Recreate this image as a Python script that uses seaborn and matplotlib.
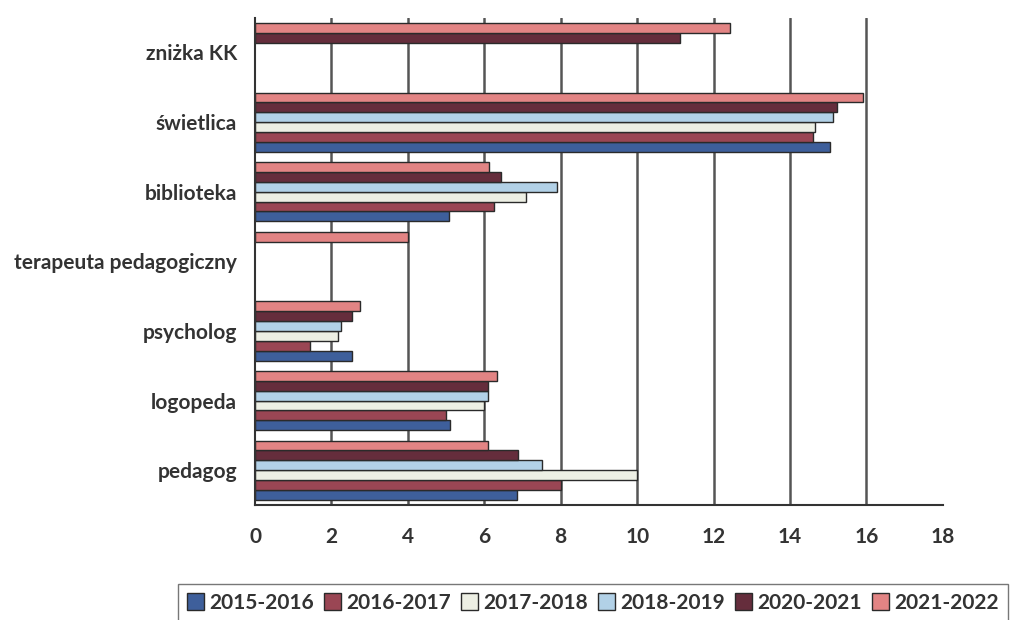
import matplotlib
matplotlib.use("Agg")
import matplotlib.pyplot as plt
from matplotlib.ticker import FixedLocator
import seaborn as sns
import pandas as pd
import numpy as np

categories = ["pedagog", "logopeda", "psycholog", "terapeuta pedagogiczny",
              "biblioteka", "świetlica", "zniżka KK"]
series = ["2015-2016", "2016-2017", "2017-2018", "2018-2019", "2020-2021", "2021-2022"]
v_2015_2016 = [6.85, 5.1, 2.55, np.nan, 5.07, 15.05, np.nan]
v_2016_2017 = [8.0, 5.0, 1.45, np.nan, 6.25, 14.6, np.nan]
v_2017_2018 = [10.0, 6.0, 2.17, np.nan, 7.1, 14.65, np.nan]
v_2018_2019 = [7.5, 6.1, 2.25, np.nan, 7.9, 15.13, np.nan]
v_2020_2021 = [6.87, 6.1, 2.55, np.nan, 6.45, 15.23, 11.13]
v_2021_2022 = [6.1, 6.33, 2.76, 4.0, 6.13, 15.9, 12.43]
x_ticks = [0, 2, 4, 6, 8, 10, 12, 14, 16, 18]
colors = ["#2F5BAA", "#A8384A", "#EEF1E2", "#A9D3F0", "#6E2438", "#F27474"]

values = [v_2015_2016, v_2016_2017, v_2017_2018, v_2018_2019, v_2020_2021, v_2021_2022]
rows = []
for s, vals in zip(series, values):
    for c, v in zip(categories, vals):
        rows.append({"category": c, "series": s, "value": v})
df = pd.DataFrame(rows)

sns.set_style("white")
plt.rcParams["font.family"] = ["Lato", "DejaVu Sans"]
plt.rcParams["font.weight"] = "bold"

fig = plt.figure(figsize=(10.1, 6.2), dpi=100)
ax = fig.add_axes([0.2525, 0.1855, 0.681, 0.786])

sns.barplot(data=df, x="value", y="category", hue="series", order=categories,
            hue_order=series, palette=colors, orient="h", errorbar=None,
            width=0.85, edgecolor="#2a2a2a", linewidth=1.0, ax=ax, legend=True)

ax.set_ylim(-0.5, len(categories) - 0.5)
ax.set_xlim(0, 18)
ax.set_xticks(x_ticks)
ax.set_xlabel("")
ax.set_ylabel("")

ax.set_axisbelow(True)
ax.xaxis.grid(True, color="#555555", linewidth=1.8)
ax.yaxis.grid(False)
ax.xaxis.get_gridlines()[-1].set_visible(False)
ax.xaxis.get_gridlines()[0].set_visible(False)

for side in ["top", "right"]:
    ax.spines[side].set_visible(False)
for side in ["left", "bottom"]:
    ax.spines[side].set_color("#333333")
    ax.spines[side].set_linewidth(1.5)

ax.tick_params(axis="y", which="major", length=0, pad=13, labelsize=15, labelcolor="#333333")
ax.yaxis.set_minor_locator(FixedLocator(np.arange(-0.5, len(categories), 1.0)))
ax.tick_params(axis="y", which="minor", length=6, width=1.5, color="#333333", direction="out")
ax.tick_params(axis="x", which="major", length=6, width=1.5, color="#333333",
               direction="out", pad=10, labelsize=15, labelcolor="#333333")
for t in ax.get_yticklabels() + ax.get_xticklabels():
    t.set_fontweight("bold")

handles, labels = ax.get_legend_handles_labels()
ax.get_legend().remove()
leg = fig.legend(handles, labels, loc="center", bbox_to_anchor=(593 / 1010, 1 - 603 / 620),
                 ncol=6, frameon=True, fancybox=False, edgecolor="#555555",
                 handlelength=0.8, handleheight=0.9, handletextpad=0.25,
                 columnspacing=0.5, borderpad=0.45, prop={"size": 15, "weight": "bold"})
for t in leg.get_texts():
    t.set_color("#333333")

fig.savefig("out.png", dpi=100)
